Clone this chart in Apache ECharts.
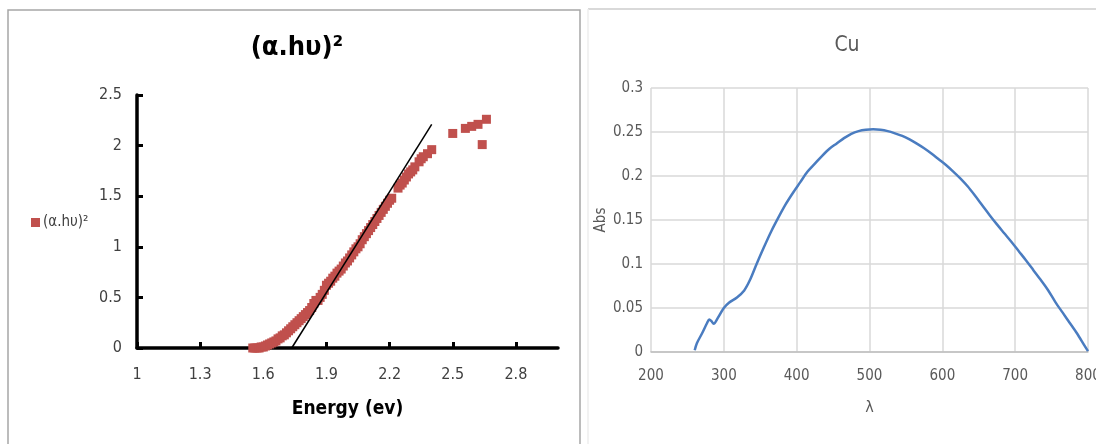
<!DOCTYPE html>
<html>
<head>
<meta charset="utf-8">
<script src="https://cdn.jsdelivr.net/npm/echarts@6/dist/echarts.min.js"></script>
<style>
html,body{margin:0;padding:0;background:#fff;}
#c{width:1096px;height:444px;}
</style>
</head>
<body>
<div id="c"></div>
<script>
// ---- Left chart: (α.hυ)² vs energy ----
const energyTicks = [1, 1.3, 1.6, 1.9, 2.2, 2.5, 2.8];
const energy = [1.55,1.56,1.57,1.58,1.59,1.60,1.61,1.62,1.63,1.64,1.65,1.66,1.67,1.68,1.69,1.70,1.71,1.72,1.73,1.74,1.75,1.76,1.77,1.78,1.79,1.80,1.81,1.82,1.83,1.84,1.85,1.86,1.87,1.88,1.89,1.90,1.91,1.92,1.93,1.94,1.95,1.96,1.97,1.98,1.99,2.00,2.01,2.02,2.03,2.04,2.05,2.06,2.07,2.08,2.09,2.10,2.11,2.12,2.13,2.14,2.15,2.16,2.17,2.18,2.19,2.20,2.21,2.24,2.25,2.26,2.27,2.28,2.29,2.30,2.31,2.32,2.34,2.35,2.36,2.38,2.40,2.50,2.56,2.59,2.62,2.64,2.66];
const alphaHv2 = [0.00,0.00,0.00,0.00,0.01,0.01,0.02,0.03,0.04,0.05,0.06,0.07,0.09,0.10,0.12,0.13,0.15,0.17,0.19,0.21,0.23,0.25,0.27,0.29,0.31,0.33,0.35,0.37,0.40,0.44,0.47,0.47,0.50,0.53,0.57,0.62,0.64,0.66,0.69,0.71,0.74,0.76,0.78,0.81,0.84,0.86,0.89,0.92,0.95,0.98,1.00,1.03,1.07,1.10,1.13,1.16,1.19,1.22,1.25,1.28,1.31,1.34,1.37,1.40,1.43,1.46,1.48,1.58,1.61,1.63,1.66,1.69,1.72,1.74,1.76,1.79,1.84,1.87,1.89,1.92,1.96,2.12,2.17,2.19,2.21,2.01,2.26];
const fitLineX = [1.735, 2.40];
const fitLineY = [0, 2.21];
const leftYTicks = [0, 0.5, 1, 1.5, 2, 2.5];

// ---- Right chart: Cu absorbance ----
const wavelength = [260,263,270,277,280,283,286,292,300,307,318,328,336,345,355,365,375,385,395,405,415,425,435,445,455,465,475,485,495,505,515,525,535,545,555,565,575,585,595,605,615,625,635,645,655,665,675,685,695,705,715,725,735,745,755,765,775,785,795,800];
const absorbance = [0.002,0.010,0.021,0.033,0.037,0.035,0.032,0.039,0.050,0.056,0.062,0.070,0.082,0.100,0.119,0.137,0.153,0.168,0.181,0.193,0.205,0.214,0.223,0.231,0.237,0.243,0.248,0.251,0.2525,0.253,0.2525,0.251,0.2485,0.2455,0.2415,0.2368,0.2315,0.2255,0.219,0.2125,0.205,0.197,0.188,0.1775,0.1665,0.1555,0.145,0.135,0.125,0.1145,0.104,0.093,0.082,0.0705,0.057,0.045,0.033,0.021,0.0075,0.001];

const narrow = '"Liberation Sans Narrow","DejaVu Sans Condensed","Open Sans",sans-serif';

const scatterData = energy.map((e, i) => [e, alphaHv2[i]]);
const fitData = fitLineX.map((x, i) => [x, fitLineY[i]]);
const cuData = wavelength.map((w, i) => [w, absorbance[i]]);

const chart = echarts.init(document.getElementById('c'), null, {renderer: 'canvas'});
chart.setOption({
  backgroundColor: '#ffffff',
  animation: false,
  textStyle: {fontFamily: narrow},
  graphic: [
    {type: 'rect', shape: {x: 8, y: 10, width: 572, height: 440}, style: {fill: 'none', stroke: '#a6a6a6', lineWidth: 1.5}, silent: true},
    {type: 'line', shape: {x1: 588, y1: 9, x2: 1096, y2: 9}, style: {stroke: '#d9d9d9', lineWidth: 2}, silent: true},
    {type: 'line', shape: {x1: 588, y1: 9, x2: 588, y2: 444}, style: {stroke: '#eeeeee', lineWidth: 1.5}, silent: true}
  ],
  title: [
    {text: '(α.hυ)²', left: 292, top: 29, textAlign: 'center',
     textStyle: {fontFamily: narrow, fontSize: 27, fontWeight: 'bold', color: '#000'}},
    {text: 'Cu', left: 842, top: 30, textAlign: 'center',
     textStyle: {fontFamily: narrow, fontSize: 21, fontWeight: 'normal', color: '#595959'}}
  ],
  legend: {
    data: ['(α.hυ)²'], left: 26, top: 210, icon: 'rect', itemWidth: 9, itemHeight: 9, itemGap: 4,
    textStyle: {fontFamily: narrow, fontSize: 15, color: '#404040', padding: [0, 0, 0, -2]}
  },
  grid: [
    {left: 137, top: 95, right: 538, bottom: 96, outerBoundsMode: 'none'},
    {left: 651, top: 88, right: 8, bottom: 92, outerBoundsMode: 'none'}
  ],
  xAxis: [
    {type: 'value', gridIndex: 0, min: 1, max: 3, interval: 0.3,
     name: 'Energy (ev)', nameLocation: 'middle', nameGap: 52,
     nameTextStyle: {fontFamily: narrow, fontSize: 19, fontWeight: 'bold', color: '#000'},
     axisLine: {show: true, onZero: false, lineStyle: {color: '#000', width: 3.5}},
     axisTick: {show: true, inside: true, length: 6, customValues: energyTicks, lineStyle: {color: '#000', width: 3}},
     axisLabel: {customValues: energyTicks, margin: 19, fontFamily: narrow, fontSize: 16, color: '#404040',
                 formatter: v => String(+v.toFixed(1))},
     splitLine: {show: false}},
    {type: 'value', gridIndex: 1, min: 200, max: 800, interval: 100,
     name: 'λ', nameLocation: 'middle', nameGap: 48,
     nameTextStyle: {fontFamily: narrow, fontSize: 16, color: '#595959'},
     axisLine: {show: true, onZero: false, lineStyle: {color: '#bfbfbf', width: 1.5}},
     axisTick: {show: false},
     axisLabel: {margin: 17, fontFamily: narrow, fontSize: 15, color: '#595959'},
     splitLine: {show: true, lineStyle: {color: '#d9d9d9', width: 1.5}}}
  ],
  yAxis: [
    {type: 'value', gridIndex: 0, min: 0, max: 2.5, interval: 0.5,
     axisLine: {show: true, lineStyle: {color: '#000', width: 3.5}},
     axisTick: {show: true, inside: true, length: 6, lineStyle: {color: '#000', width: 3}},
     axisLabel: {margin: 15, fontFamily: narrow, fontSize: 16, color: '#404040',
                 customValues: leftYTicks, formatter: v => String(v)},
     splitLine: {show: false}},
    {type: 'value', gridIndex: 1, min: 0, max: 0.3, interval: 0.05,
     name: 'Abs', nameLocation: 'middle', nameGap: 38, nameRotate: 90,
     nameTextStyle: {fontFamily: narrow, fontSize: 15, color: '#595959'},
     axisLine: {show: false}, axisTick: {show: false},
     axisLabel: {margin: 8, fontFamily: narrow, fontSize: 15, color: '#595959',
                 formatter: v => String(+v.toFixed(2))},
     splitLine: {show: true, lineStyle: {color: '#d9d9d9', width: 1.5}}}
  ],
  series: [
    {name: '(α.hυ)²', type: 'scatter', xAxisIndex: 0, yAxisIndex: 0, data: scatterData,
     symbol: 'rect', symbolSize: 9, itemStyle: {color: '#c0504d', opacity: 1}, z: 2},
    {name: 'fit', type: 'line', xAxisIndex: 0, yAxisIndex: 0, data: fitData,
     showSymbol: false, symbol: 'none', lineStyle: {color: '#000', width: 1.5}, z: 3},
    {name: 'Cu', type: 'line', xAxisIndex: 1, yAxisIndex: 1, data: cuData, smooth: 0.3,
     showSymbol: false, symbol: 'none', lineStyle: {color: '#4a7cc0', width: 2.5}}
  ]
});
</script>
</body>
</html>
